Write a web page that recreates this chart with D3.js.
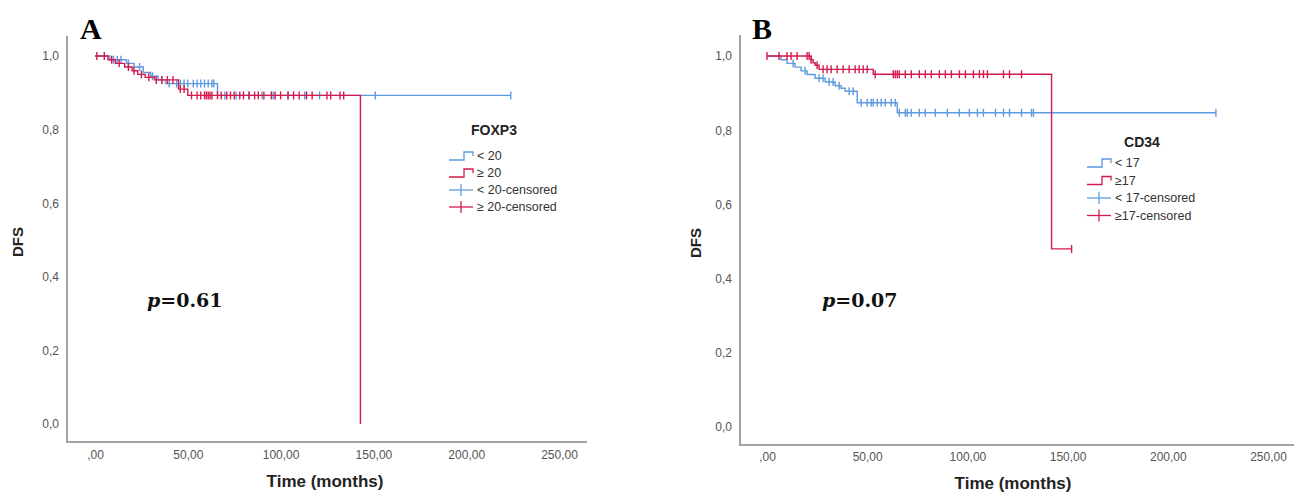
<!DOCTYPE html>
<html>
<head>
<meta charset="utf-8">
<script src="https://cdn.jsdelivr.net/npm/d3@7"></script>
<style>
  body { margin: 0; background: #fff; }
  text { font-family: "Liberation Sans", Arial, sans-serif; }
</style>
</head>
<body>
<div id="chart"></div>
<script>
// axis ticks
const timeTicks = [0, 50, 100, 150, 200, 250];
const survTicks = [0, 0.2, 0.4, 0.6, 0.8, 1.0];

// Panel A - FOXP3 (time in months, survival)
const foxLowSteps = [[0, 1], [8, 0.99], [17, 0.98], [21, 0.97], [26, 0.955], [30, 0.945], [34, 0.935], [38, 0.925], [66, 0.893]];
const foxLowEnd = 224;
const foxLowCensored = [10, 12, 14, 18, 24, 31, 36, 40, 44, 46, 48, 50, 53, 55, 57, 59, 61, 63, 64, 70, 76, 83, 90, 96, 104, 113, 121, 151, 224];
const foxHighSteps = [[0, 1], [7, 0.99], [11, 0.98], [16, 0.97], [20, 0.96], [23, 0.95], [27, 0.942], [32, 0.935], [45, 0.91], [50, 0.893], [143, 0]];
const foxHighEnd = 143;
const foxHighCensored = [1, 5, 9, 13, 18, 21, 25, 29, 33, 36, 39, 42, 46, 48, 52, 55, 57, 59, 60, 61, 62, 63, 66, 68, 71, 73, 75, 78, 80, 83, 86, 88, 91, 95, 97, 100, 104, 107, 110, 114, 117, 125, 127, 132, 134];
const foxLabels = ["< 20", "\u2265 20", "< 20-censored", "\u2265 20-censored"];

// Panel B - CD34
const cdLowSteps = [[0, 1], [7, 0.99], [10, 0.98], [14, 0.97], [17, 0.96], [20, 0.95], [24, 0.94], [29, 0.93], [34, 0.92], [37, 0.913], [39, 0.905], [45, 0.874], [65, 0.847]];
const cdLowEnd = 224;
const cdLowCensored = [13, 19, 26, 28, 31, 33, 36, 41, 43, 47, 50, 52, 53, 55, 57, 59, 62, 64, 66, 69, 70, 72, 76, 79, 84, 90, 96, 101, 105, 108, 114, 118, 121, 127, 132, 133, 224];
const cdHighSteps = [[0, 1], [22, 0.99], [23, 0.982], [24, 0.975], [26, 0.964], [53, 0.951], [142, 0.48]];
const cdHighEnd = 152;
const cdHighCensored = [0, 6, 10, 12, 15, 20, 21, 22, 25, 28, 30, 32, 35, 38, 41, 44, 46, 48, 50, 54, 63, 64, 65, 66, 69, 72, 76, 79, 82, 86, 89, 92, 96, 99, 103, 106, 108, 110, 118, 121, 127, 152];
const cdLabels = ["< 17", " \u226517", "< 17-censored", " \u226517-censored"];

const blue = "#5e9be0";
const red = "#d41a4c";

const svg = d3
  .select("#chart")
  .append("svg")
  .attr("width", 1298)
  .attr("height", 494);

function survAt(steps, t) {
  const i = d3.bisector((d) => d[0]).right(steps, t) - 1;
  return steps[Math.max(i, 0)][1];
}

function fmtTime(d) {
  return d === 0 ? ",00" : d3.format(".2f")(d).replace(".", ",");
}

function drawPanel(p) {
  const g = svg.append("g");
  const x = d3.scaleLinear().domain([0, 250]).range([p.x0, p.x250]);
  const y = d3.scaleLinear().domain([0, 1]).range([p.y0, p.y1]);

  // axis lines
  g.append("line")
    .attr("x1", p.axisX).attr("x2", p.axisX)
    .attr("y1", p.axisTop).attr("y2", p.axisY + 1)
    .style("stroke", "#a3a3a3").style("stroke-width", 2);
  g.append("line")
    .attr("x1", p.axisX - 1).attr("x2", p.axisRight)
    .attr("y1", p.axisY).attr("y2", p.axisY)
    .style("stroke", "#a3a3a3").style("stroke-width", 2);

  g.append("g")
    .attr("transform", `translate(0,${p.axisY})`)
    .call(d3.axisBottom(x).tickValues(timeTicks).tickSize(0).tickPadding(p.xPad).tickFormat(fmtTime))
    .call((a) => a.select(".domain").remove())
    .selectAll("text")
    .style("font-size", "12px")
    .style("fill", "#555")
    .style("font-family", "Liberation Sans, Arial, sans-serif");

  g.append("g")
    .attr("transform", `translate(${p.axisX},0)`)
    .call(d3.axisLeft(y).tickValues(survTicks).tickSize(0).tickPadding(p.yPad)
      .tickFormat((d) => d3.format(".1f")(d).replace(".", ",")))
    .call((a) => a.select(".domain").remove())
    .selectAll("text")
    .style("font-size", "12px")
    .style("fill", "#555")
    .style("font-family", "Liberation Sans, Arial, sans-serif");

  // axis titles
  g.append("text")
    .attr("x", p.xTitleX).attr("y", p.xTitleY)
    .attr("text-anchor", "middle")
    .style("font-size", "17px").style("font-weight", "bold").style("fill", "#222")
    .text("Time (months)");
  g.append("text")
    .attr("transform", `translate(${p.yTitleX},${p.yTitleY}) rotate(-90)`)
    .attr("text-anchor", "middle")
    .style("font-size", "15px").style("font-weight", "bold").style("fill", "#222")
    .text("DFS");

  // panel letter
  g.append("text")
    .attr("x", p.letterX).attr("y", 39)
    .style("font-family", "Liberation Serif, serif")
    .style("font-size", "30px").style("font-weight", "bold")
    .text(p.letter);

  // p value
  const pt = g.append("text")
    .attr("x", p.pX).attr("y", 307)
    .style("font-family", "DejaVu Serif, serif")
    .style("font-size", "19px").style("font-weight", "bold")
    .style("fill", "#111");
  pt.append("tspan").style("font-style", "italic").text("p");
  pt.append("tspan").text("=" + p.pValue);

  // survival curves
  const line = d3.line()
    .x((d) => x(d[0]))
    .y((d) => y(d[1]))
    .curve(d3.curveStepAfter);

  p.groups.forEach(function (s) {
    const pts = s.steps.concat([[s.end, s.steps[s.steps.length - 1][1]]]);
    g.append("path")
      .datum(pts)
      .attr("d", line)
      .style("fill", "none")
      .style("stroke", s.color)
      .style("stroke-width", 1.4);
    g.selectAll(null)
      .data(s.censored)
      .enter()
      .append("line")
      .attr("x1", (d) => x(d)).attr("x2", (d) => x(d))
      .attr("y1", (d) => y(survAt(s.steps, d)) - 4)
      .attr("y2", (d) => y(survAt(s.steps, d)) + 4)
      .style("stroke", s.color)
      .style("stroke-width", 1.4);
  });

  // legend
  const lg = g.append("g");
  lg.append("text")
    .attr("x", p.legTitleX).attr("y", p.legTitleY)
    .attr("text-anchor", "middle")
    .style("font-size", "14px").style("font-weight", "bold").style("fill", "#222")
    .text(p.legTitle);
  p.labels.forEach(function (lab, i) {
    const ly = p.legY + i * p.legStep;
    const col = i % 2 === 0 ? blue : red;
    const sx = p.legX;
    if (i < 2) {
      lg.append("path")
        .attr("d", `M${sx},${ly + 4} H${sx + 15} V${ly - 4} H${sx + 24} V${ly}`)
        .style("fill", "none").style("stroke", col).style("stroke-width", 1.3);
    } else {
      lg.append("line")
        .attr("x1", sx).attr("x2", sx + 24).attr("y1", ly).attr("y2", ly)
        .style("stroke", col).style("stroke-width", 1.3);
      lg.append("line")
        .attr("x1", sx + 12).attr("x2", sx + 12).attr("y1", ly - 6).attr("y2", ly + 6)
        .style("stroke", col).style("stroke-width", 1.3);
    }
    lg.append("text")
      .attr("x", sx + 28).attr("y", ly + 4)
      .style("font-size", "12.5px").style("fill", "#333")
      .text(lab);
  });
}

drawPanel({
  letter: "A", letterX: 80, pX: 147, pValue: "0.61",
  x0: 95, x250: 559, y0: 424, y1: 56,
  axisX: 67, axisY: 442, axisTop: 36, axisRight: 587, xPad: 8, yPad: 8,
  xTitleX: 325, xTitleY: 487, yTitleX: 23, yTitleY: 242,
  legTitle: "FOXP3", legTitleX: 494, legTitleY: 135,
  legX: 449, legY: 156, legStep: 17, labels: foxLabels,
  groups: [
    { steps: foxLowSteps, end: foxLowEnd, censored: foxLowCensored, color: blue },
    { steps: foxHighSteps, end: foxHighEnd, censored: foxHighCensored, color: red },
  ],
});

drawPanel({
  letter: "B", letterX: 752, pX: 822, pValue: "0.07",
  x0: 767, x250: 1268, y0: 427, y1: 56,
  axisX: 740, axisY: 445, axisTop: 35, axisRight: 1294, xPad: 7, yPad: 8,
  xTitleX: 1013, xTitleY: 489, yTitleX: 701, yTitleY: 243,
  legTitle: "CD34", legTitleX: 1142, legTitleY: 147,
  legX: 1087, legY: 163, legStep: 17.5, labels: cdLabels,
  groups: [
    { steps: cdLowSteps, end: cdLowEnd, censored: cdLowCensored, color: blue },
    { steps: cdHighSteps, end: cdHighEnd, censored: cdHighCensored, color: red },
  ],
});
</script>
</body>
</html>
